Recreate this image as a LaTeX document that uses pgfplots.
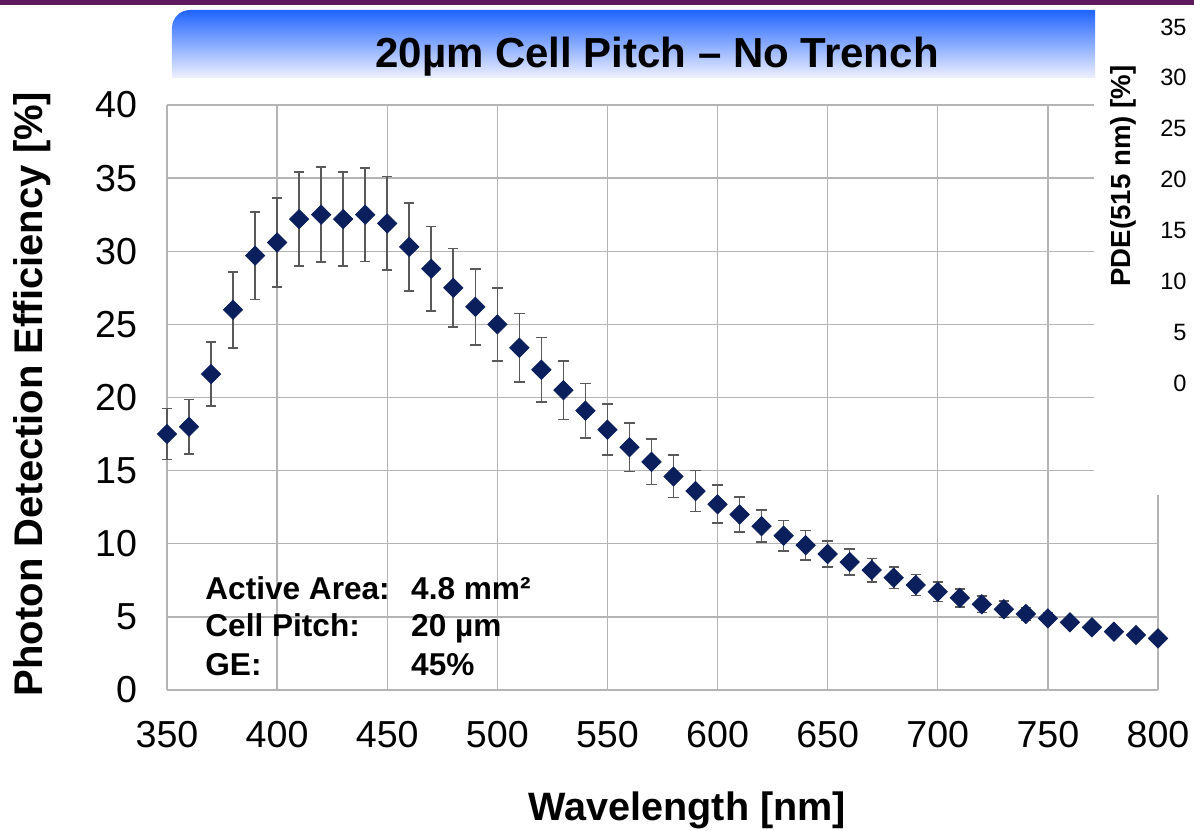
\documentclass[border=0pt]{standalone}
\usepackage{fontspec}
\setmainfont{Liberation Sans}
\usepackage{pgfplots}
\usepackage{pgfplotstable}
\pgfplotsset{compat=1.18}
\definecolor{navy}{HTML}{0B1F5C}
\definecolor{purplebar}{HTML}{5B1A5C}
\definecolor{gridgray}{HTML}{B4B4B4}
\definecolor{titletop}{HTML}{2064FF}
\definecolor{titlebot}{HTML}{F0F1FF}
\pgfplotstableread{
x y e
350 17.5 1.75
360 18.0 1.85
370 21.6 2.2
380 26.0 2.6
390 29.7 3.0
400 30.6 3.05
410 32.2 3.2
420 32.5 3.25
430 32.2 3.2
440 32.5 3.2
450 31.9 3.2
460 30.3 3.0
470 28.8 2.9
480 27.5 2.7
490 26.2 2.6
500 25.0 2.5
510 23.4 2.35
520 21.9 2.2
530 20.5 2.0
540 19.1 1.85
550 17.8 1.75
560 16.6 1.65
570 15.6 1.55
580 14.6 1.45
590 13.6 1.4
600 12.7 1.3
610 12.0 1.2
620 11.2 1.1
630 10.55 1.05
640 9.9 1.0
650 9.3 0.9
660 8.75 0.88
670 8.2 0.8
680 7.68 0.75
690 7.18 0.72
700 6.72 0.68
710 6.3 0.62
720 5.86 0.57
730 5.52 0.55
740 5.2 0.45
750 4.9 0.35
760 4.63 0.3
770 4.29 0.25
780 3.99 0.2
790 3.76 0.15
800 3.53 0.1
}\pdedata
\begin{document}
\begin{tikzpicture}
\useasboundingbox (-83.5pt,-70pt) rectangle (513.5pt,345pt);
\begin{axis}[
  at={(0pt,0pt)}, anchor=south west,
  scale only axis, width=495.5pt, height=292.5pt,
  xmin=350, xmax=800, ymin=0, ymax=40,
  xtick={350,400,...,800}, ytick={0,5,...,40},
  grid=major, grid style={gridgray, line width=0.7pt},
  axis x line*=bottom, axis y line*=left,
  axis line style={gridgray, line width=0.8pt, -},
  major tick length=0pt,
  clip=false,
  /pgf/number format/assume math mode=true,
  ticklabel style={font=\fontsize{18.8}{20}\selectfont},
  xticklabel style={yshift=-12pt},
  yticklabel style={xshift=-11.5pt},
  xlabel={\textbf{Wavelength [nm]}},
  xlabel style={at={(rel axis cs:0.525,0)}, anchor=base, yshift=-65pt, font=\fontsize{19.8}{22}\selectfont},
  ylabel={\textbf{Photon Detection Efficiency [\%]}},
  ylabel style={at={(rel axis cs:0,0.506)}, anchor=center, yshift=67.5pt, font=\fontsize{20}{22}\selectfont},
]
\addplot[only marks, mark=square*, mark size=3.4pt,
  mark options={rotate=45, fill=navy, draw=navy},
  error bars/.cd, y dir=both, y explicit,
  error bar style={line width=0.8pt, black!65},
  error mark options={rotate=90, mark size=2.6pt, line width=0.8pt, black!65}]
  table[x=x, y=y, y error=e] {\pdedata};
\end{axis}
% cover of the right top part of the plot area
\fill[white] (463.5pt,97.5pt) rectangle (520pt,350pt);
% title box
\shade[top color=titletop, bottom color=titlebot]
  (464pt,306pt) -- (2.5pt,306pt) -- (2.5pt,325pt) [rounded corners=9pt] -- (2.5pt,340pt) -- (300pt,340pt) [sharp corners] -- (464pt,340pt) -- cycle;
\node[font=\fontsize{21}{24}\selectfont\bfseries, anchor=base] at (245pt,311pt) {20µm Cell Pitch – No Trench};
\fill[purplebar] (-83.5pt,342.5pt) rectangle (513.5pt,345pt);
% annotation
\begin{scope}[every node/.style={font=\fontsize{15.8}{18}\selectfont\bfseries, anchor=base west, inner sep=0pt}]
\node at (19pt,45pt) {Active Area:};
\node at (19pt,26.65pt) {Cell Pitch:};
\node at (19pt,7pt) {GE:};
\node at (121.9pt,45pt) {4.8 mm²};
\node at (121.9pt,26.65pt) {20 µm};
\node at (121.9pt,7pt) {45\%};
\end{scope}
% right-hand PDE(515 nm) scale
\begin{axis}[
  at={(463.5pt,153.5pt)}, anchor=south west,
  scale only axis, width=46.5pt, height=178pt,
  xmin=0, xmax=1, ymin=0, ymax=35,
  ytick={0,5,...,35}, xtick=\empty,
  axis y line*=right, axis x line=none,
  axis line style={draw=none},
  major tick length=0pt,
  /pgf/number format/assume math mode=true,
  yticklabel style={anchor=east, inner sep=0pt, font=\fontsize{11.8}{13}\selectfont},
]
\addplot[draw=none] coordinates {(0,0)};
\end{axis}
\node[rotate=90, font=\fontsize{13.8}{16}\selectfont\bfseries] at (478pt,257pt) {PDE(515 nm) [\%]};
\end{tikzpicture}
\end{document}
